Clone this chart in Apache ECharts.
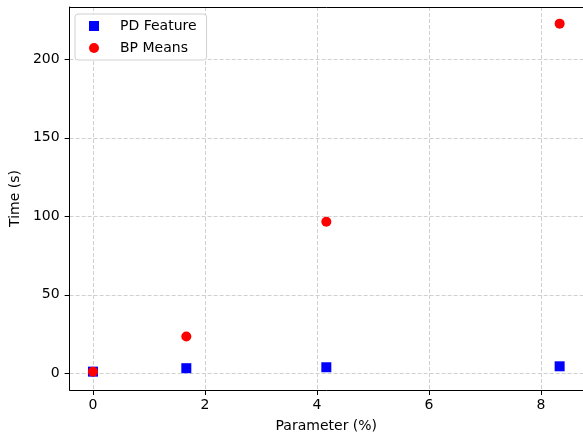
<!DOCTYPE html>
<html>
<head>
<meta charset="utf-8">
<script src="https://cdn.jsdelivr.net/npm/echarts@6/dist/echarts.min.js"></script>
<style>html,body{margin:0;padding:0;background:#fff;overflow:hidden;width:583px;height:438px;}#c{width:583px;height:438px;}</style>
</head>
<body>
<div id="c"></div>
<script>
const paramX = [0, 1.667, 4.167, 8.333];
const pdFeature = [1.0, 3.2, 3.8, 4.4];
const bpMeans = [1.0, 23.4, 96.5, 222.8];
const seriesNames = ['PD Feature', 'BP Means'];

const chart = echarts.init(document.getElementById('c'), null, {renderer: 'canvas', width: 583, height: 438});
const font = 'DejaVu Sans';
const gridLine = {show: true, lineStyle: {color: '#d0d0d0', type: [4, 2], width: 1}};
chart.setOption({
  animation: false,
  grid: {left: 68, top: 7, width: 519, height: 387},
  legend: {
    left: 75, top: 14, orient: 'vertical',
    backgroundColor: '#fff',
    borderColor: '#d0d0d0', borderWidth: 1, borderRadius: 3,
    padding: [5, 10, 5, 14],
    itemWidth: 10, itemHeight: 10, itemGap: 8,
    textStyle: {fontFamily: font, fontSize: 14, color: '#000', padding: [0, 0, 0, 16]},
    data: [{name: seriesNames[0], icon: 'rect'}, {name: seriesNames[1], icon: 'circle'}]
  },
  xAxis: [{
    type: 'value', min: -0.4167, max: 8.75, splitNumber: 5,
    name: 'Parameter (%)', nameLocation: 'middle', nameGap: 29,
    nameTextStyle: {fontFamily: font, fontSize: 14, color: '#000'},
    axisLine: {show: true, onZero: false, lineStyle: {color: '#000', width: 1}},
    axisTick: {show: true, length: 5, lineStyle: {color: '#000'}},
    axisLabel: {fontFamily: font, fontSize: 14, color: '#000', margin: 8, showMinLabel: false, showMaxLabel: false},
    splitLine: gridLine
  }, {
    type: 'value', position: 'top', min: -0.4167, max: 8.75,
    axisLine: {show: true, onZero: false, lineStyle: {color: '#000', width: 1}},
    axisTick: {show: false}, axisLabel: {show: false}, splitLine: {show: false}
  }],
  yAxis: {
    type: 'value', min: -10.7, max: 233.4, splitNumber: 5,
    name: 'Time (s)', nameLocation: 'middle', nameGap: 45,
    nameTextStyle: {fontFamily: font, fontSize: 14, color: '#000'},
    axisLine: {show: true, onZero: false, lineStyle: {color: '#000', width: 1}},
    axisTick: {show: true, length: 5, lineStyle: {color: '#000'}},
    axisLabel: {fontFamily: font, fontSize: 14, color: '#000', margin: 10, showMinLabel: false, showMaxLabel: false},
    splitLine: gridLine
  },
  series: [
    {name: seriesNames[0], type: 'scatter', symbol: 'rect', symbolSize: 10,
     itemStyle: {color: '#0000ff', opacity: 1}, data: paramX.map((x, i) => [x, pdFeature[i]])},
    {name: seriesNames[1], type: 'scatter', symbol: 'circle', symbolSize: 10,
     itemStyle: {color: '#ff0000', opacity: 1}, data: paramX.map((x, i) => [x, bpMeans[i]])}
  ]
});
</script>
</body>
</html>
